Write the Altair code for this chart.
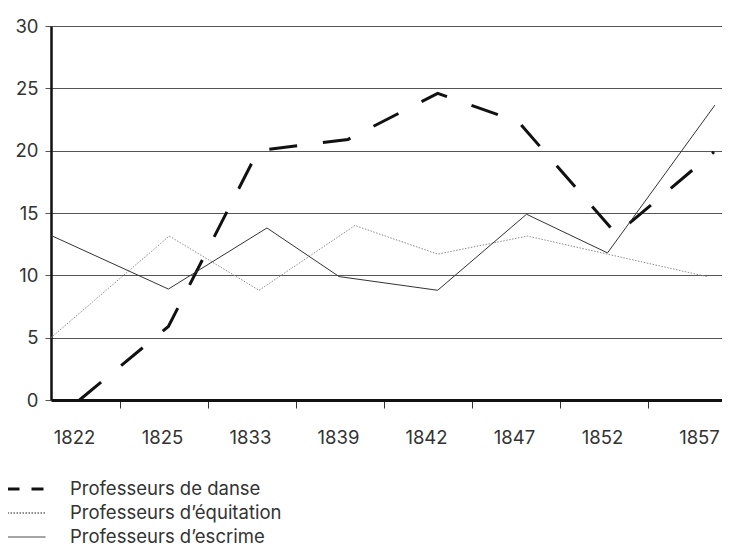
import altair as alt
import pandas as pd

# x positions are expressed in "period slots" (0 = 1822 label, 7 = 1857 label)
years = ["1822", "1825", "1833", "1839", "1842", "1847", "1852", "1857"]

series_names = ["Professeurs de danse", "Professeurs d\u2019\u00e9quitation", "Professeurs d\u2019escrime"]

danse_x = [0.04, 1.05, 2.07, 3.09, 4.11, 5.03, 6.14, 7.25]
danse_y = [0.0, 5.9, 20.0, 20.9, 24.6, 22.3, 13.3, 19.9]

equitation_x = [-0.284, 1.06, 2.08, 3.17, 4.11, 5.13, 6.04, 7.17]
equitation_y = [5.0, 13.15, 8.8, 14.0, 11.7, 13.15, 11.7, 9.9]

escrime_x = [-0.284, 1.05, 2.17, 2.99, 4.11, 5.12, 6.04, 7.26]
escrime_y = [13.2, 8.9, 13.8, 9.9, 8.8, 14.9, 11.8, 23.65]

y_ticks = [0, 5, 10, 15, 20, 25, 30]

rows = []
for name, xs, ys in zip(series_names,
                        [danse_x, equitation_x, escrime_x],
                        [danse_y, equitation_y, escrime_y]):
    for i, (xv, yv) in enumerate(zip(xs, ys)):
        rows.append({"series": name, "slot": xv, "value": yv, "order": i})
df = pd.DataFrame(rows)

FONT = "Inter"
FS = 18.5
label_expr = "[" + ",".join("'" + y + "'" for y in years) + "][round(datum.value)]"

x_scale = alt.Scale(domain=[-0.284, 7.341], nice=False, zero=False)
y_scale = alt.Scale(domain=[0, 30], nice=False)

x_axis = alt.Axis(values=list(range(len(years))), labelExpr=label_expr, title=None,
                  grid=False, domainColor="#111", domainWidth=3,
                  tickColor="#333", tickWidth=1, tickSize=8, tickOffset=44,
                  labelOffset={"condition": {"test": "datum.value == 7", "value": -37}, "value": -46},
                  labelPadding=20, labelFont=FONT, labelFontSize=FS,
                  labelColor="#333", labelAngle=0)
y_axis = alt.Axis(values=y_ticks, title=None, grid=True, gridColor="#555", gridWidth=1,
                  domainColor="#111", domainWidth=2.5, tickColor="#555", tickSize=6,
                  labelPadding=7, labelFont=FONT, labelFontSize=FS, labelColor="#333")

dash_styles = {
    series_names[0]: dict(color="#111", strokeWidth=3, strokeDash=[28, 26]),
    series_names[1]: dict(color="#8a8a8a", strokeWidth=1, strokeDash=[1.5, 1.5]),
    series_names[2]: dict(color="#333", strokeWidth=1),
}

layers = []
for i, name in enumerate(series_names):
    st = dash_styles[name]
    enc = dict(
        x=alt.X("slot:Q", scale=x_scale, axis=x_axis),
        y=alt.Y("value:Q", scale=y_scale, axis=y_axis),
        order="order:Q",
    )
    layers.append(
        alt.Chart(df).transform_filter(alt.datum.series == name)
        .mark_line(**st).encode(**enc)
    )

legend_df = pd.DataFrame({"series": series_names})
legend = alt.Legend(title=None, orient="none", legendX=-45, legendY=454,
                    direction="vertical", symbolType="stroke", symbolSize=1444,
                    clipHeight=18, labelFont=FONT, labelFontSize=FS, labelColor="#333",
                    labelLimit=400, labelOffset=23, rowPadding=5, padding=0)
legend_layer = alt.Chart(legend_df).mark_line().encode(
    x=alt.value(0), y=alt.value(0),
    color=alt.Color("series:N", scale=alt.Scale(domain=series_names, range=["#111", "#8a8a8a", "#333"]), legend=legend),
    strokeDash=alt.StrokeDash("series:N", scale=alt.Scale(domain=series_names, range=[[12, 12], [1.5, 1.5], [1, 0]]), legend=legend),
    strokeWidth=alt.StrokeWidth("series:N", scale=alt.Scale(domain=series_names, range=[3, 1, 1]), legend=legend),
)

chart = alt.layer(*layers, legend_layer).properties(
    width=671, height=374,
    autosize=alt.AutoSizeParams(type="none"),
    padding={"left": 43, "top": 18, "right": 0, "bottom": 146},
).configure_view(stroke=None).configure(background="white")

chart.save("out.html", embed_options={"renderer": "svg", "actions": False})
